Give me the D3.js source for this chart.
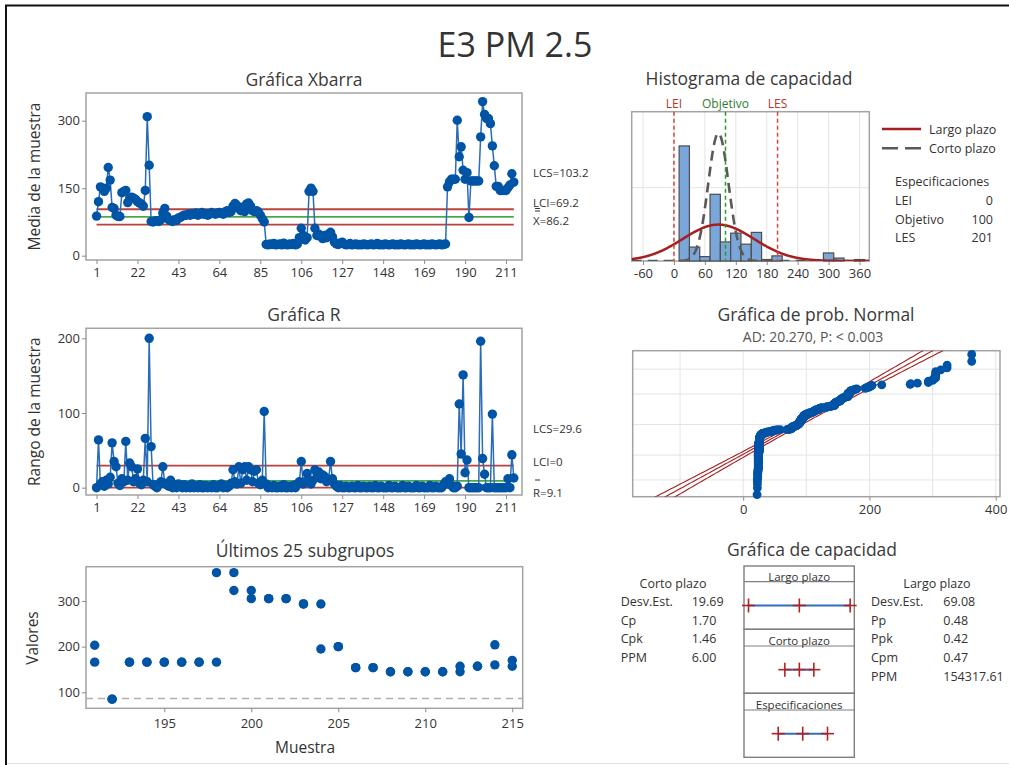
<!DOCTYPE html>
<html>
<head>
<meta charset="utf-8">
<script src="https://cdn.jsdelivr.net/npm/d3@7"></script>
<style>
  body { margin: 0; background: #fff; }
  svg { display: block; font-family: "Open Sans", "Noto Sans", sans-serif; }
</style>
</head>
<body>
<svg id="chart" width="1009" height="765"></svg>
<script>
// subgroup means (n = 2)
const xbar = [
  88,120,153,150,143,150,196,168,107,105,
  90,87,87,140,143,145,118,128,130,128,
  125,120,117,115,110,145,309,201,76,75,
  77,78,76,80,95,105,88,80,78,76,
  80,78,84,85,88,90,90,92,90,94,
  92,95,90,92,96,92,94,90,92,96,
  94,92,95,96,94,92,97,100,96,98,
  110,116,112,105,100,108,98,115,117,110,
  100,98,100,97,90,82,75,25,24,26,
  25,27,24,25,26,24,28,25,24,26,
  25,27,24,26,40,61,45,35,40,143,
  150,143,61,45,48,42,38,45,40,48,
  52,42,30,26,25,28,30,26,24,25,
  27,24,25,26,24,25,24,26,25,24,
  25,26,24,25,27,24,25,24,26,25,
  24,25,26,24,25,24,26,25,24,25,
  26,24,25,24,26,25,24,25,26,24,
  25,24,26,25,24,25,26,24,25,26,
  153,164,170,170,170,301,220,242,190,170,
  184.5,85,166,166,166,166,166,264,342.5,314,
  305,305,293.5,244,200,154,154,145,145,145,
  145,151,157,182,163.5
];
// subgroup ranges
const ranges = [
  0,64,4,8,2,10,5,14,60,35,
  28,6,3,12,8,62,10,33,28,8,
  12,25,6,4,10,66,8,200,55,4,
  2,0,5,8,28,6,4,2,10,0,
  3,0,5,2,0,4,0,2,0,5,
  0,2,0,4,0,0,3,0,2,0,
  4,0,0,2,5,0,3,0,2,6,
  24,8,5,28,6,24,28,10,28,24,
  8,22,24,6,4,10,102,5,0,2,
  0,3,0,0,2,0,4,0,0,2,
  0,3,0,5,8,35,5,8,19,8,
  5,10,24,20,21,12,17,15,8,10,
  35,12,5,2,0,3,0,0,2,0,
  0,2,0,0,3,0,0,2,0,0,
  2,0,0,3,0,0,2,0,0,0,
  3,0,0,2,0,0,0,3,0,0,
  2,0,0,0,3,0,0,2,0,0,
  0,3,0,0,2,0,0,0,4,8,
  5,12,3,0,0,2,112,45,151,20,
  37,0,0,0,0,0,0,196,39,18,
  0,0,0,98.5,0,0,0,0,0,0,
  0,12,0,44,13
];

const xbarLimits = [103.2, 86.2, 69.2];   // LCS, center, LCI
const rangeLimits = [29.6, 9.1, 0];
const grandMean = 86.2;
const sdShort = 19.69;
const sdLong = 69.08;

const xTicks = [1, 22, 43, 64, 85, 106, 127, 148, 169, 190, 211];
const xbarYTicks = [0, 150, 300];
const rangeYTicks = [0, 100, 200];
const lastXTicks = [195, 200, 205, 210, 215];
const lastYTicks = [100, 200, 300];

// histogram (bins of width 20 starting at 10)
const histStarts = [10, 30, 50, 70, 90, 110, 130, 150, 170, 190, 210, 230, 250, 270, 290, 310, 330, 350];
const histCounts = [157, 19, 6, 91, 26, 38, 23, 39, 2, 7, 0, 0, 0, 0, 11, 4, 0, 2];
const histTicks = [-60, 0, 60, 120, 180, 240, 300, 360];

const probTicks = [0, 200, 400];
const probGridX = [-100, 0, 100, 200, 300, 400];
const probGridPct = [1, 10, 50, 90, 99];

const specNames = ['LEI', 'Objetivo', 'LES'];
const specValues = [0, 100, 201];

const shortLabels = ['Desv.Est.', 'Cp', 'Cpk', 'PPM'];
const shortValues = ['19.69', '1.70', '1.46', '6.00'];
const longLabels = ['Desv.Est.', 'Pp', 'Ppk', 'Cpm', 'PPM'];
const longValues = ['69.08', '0.48', '0.42', '0.47', '154317.61'];

const blue = '#0054a6', lineBlue = '#2a6cb8', red = '#b8433f', green = '#4aa84a';
const frameGray = '#a3a3a3', textCol = '#333';

const svg = d3.select('#chart');
const n = xbar.length;
const obs = xbar.flatMap((m, i) => [m - ranges[i] / 2, m + ranges[i] / 2]);

// page border
svg.append('line').attr('x1', 5).attr('x2', 1009).attr('y1', 5.5).attr('y2', 5.5).attr('stroke', '#111').attr('stroke-width', 2);
svg.append('line').attr('x1', 6).attr('x2', 6).attr('y1', 5).attr('y2', 765).attr('stroke', '#111').attr('stroke-width', 2);
svg.append('line').attr('x1', 7).attr('x2', 1009).attr('y1', 763.5).attr('y2', 763.5).attr('stroke', '#e2e2e2');

svg.append('text').attr('x', 515).attr('y', 57).attr('text-anchor', 'middle')
  .attr('font-size', 34).attr('fill', textCol).text('E3 PM 2.5');

function label(x, y, txt, size, opts = {}) {
  const t = svg.append('text').attr('x', x).attr('y', y).attr('font-size', size)
    .attr('fill', opts.fill || textCol).attr('text-anchor', opts.anchor || 'start').text(txt);
  if (opts.rotate) t.attr('transform', `rotate(-90,${x},${y})`);
  return t;
}

function frame(x0, y0, x1, y1) {
  svg.append('rect').attr('x', x0).attr('y', y0).attr('width', x1 - x0).attr('height', y1 - y0)
    .attr('fill', 'none').attr('stroke', frameGray).attr('stroke-width', 1.5);
}

function axis(gen, tx, ty) {
  const g = svg.append('g').attr('transform', `translate(${tx},${ty})`).call(gen.tickFormat(d => String(d)));
  g.attr('font-size', null).attr('font-family', null);
  g.select('.domain').remove();
  g.selectAll('line').attr('stroke', '#8c8c8c');
  g.selectAll('text').attr('fill', textCol).style('font-size', '13px');
  return g;
}

// ---------- control charts ----------
function controlChart(values, limits, top, bottom, yDomain, yTicks, title, yTitle) {
  const x = d3.scaleLinear().domain([-4.4, 219.2]).range([86, 522]);
  const y = d3.scaleLinear().domain(yDomain).range([bottom, top]);
  frame(86, top, 522, bottom);
  axis(d3.axisBottom(x).tickValues(xTicks).tickSize(4).tickPadding(4), 0, bottom);
  axis(d3.axisLeft(y).tickValues(yTicks).tickSize(4).tickPadding(2), 86, 0);

  limits.forEach((v, i) => {
    svg.append('line').attr('x1', x(1)).attr('x2', x(n)).attr('y1', y(v)).attr('y2', y(v))
      .attr('stroke', i === 1 ? green : red).attr('stroke-width', 1.8);
  });

  svg.append('path').datum(values)
    .attr('d', d3.line().x((d, i) => x(i + 1)).y(d => y(d)))
    .attr('fill', 'none').attr('stroke', lineBlue).attr('stroke-width', 1.5);
  svg.append('g').selectAll('circle').data(values).join('circle')
    .attr('cx', (d, i) => x(i + 1)).attr('cy', d => y(d)).attr('r', 4.7).attr('fill', blue);

  label(304, top - 7, title, 17.5, { anchor: 'middle', fill: '#3a3a3a' });
  label(40, (top + bottom) / 2, yTitle, 15.5, { anchor: 'middle', rotate: true });
  return y;
}

controlChart(xbar, xbarLimits, 93, 260, [-9.6, 361.6], xbarYTicks, 'Gráfica Xbarra', 'Media de la muestra');
label(533, 177, `LCS=${xbarLimits[0]}`, 11.5);
label(533, 206.5, `LCI=${xbarLimits[2]}`, 11.5);
svg.append('line').attr('x1', 535).attr('x2', 540).attr('y1', 208.5).attr('y2', 208.5).attr('stroke', textCol);
svg.append('line').attr('x1', 535).attr('x2', 540).attr('y1', 211).attr('y2', 211).attr('stroke', textCol);
label(533, 224.5, `X=${xbarLimits[1]}`, 11.5);

controlChart(ranges, rangeLimits, 328.3, 495, [-9.8, 213.4], rangeYTicks, 'Gráfica R', 'Rango de la muestra');
label(533, 432.5, `LCS=${rangeLimits[0]}`, 11.5);
label(533, 466, `LCI=${rangeLimits[2]}`, 11.5);
svg.append('line').attr('x1', 535).attr('x2', 540).attr('y1', 480).attr('y2', 480).attr('stroke', textCol);
label(533, 497, `R=${rangeLimits[1]}`, 11.5);

// ---------- last 25 subgroups ----------
{
  const x = d3.scaleLinear().domain([190.5, 215.6]).range([86, 522.7]);
  const y = d3.scaleLinear().domain([65, 375]).range([708.3, 566.7]);
  frame(86, 566.7, 522.7, 708.3);
  axis(d3.axisBottom(x).tickValues(lastXTicks).tickSize(4).tickPadding(6), 0, 708.3);
  axis(d3.axisLeft(y).tickValues(lastYTicks).tickSize(4).tickPadding(2), 86, 0);
  svg.append('line').attr('x1', 86).attr('x2', 522.7).attr('y1', y(grandMean)).attr('y2', y(grandMean))
    .attr('stroke', '#b0b0b0').attr('stroke-width', 1.5).attr('stroke-dasharray', '7,5');
  const pts = [];
  for (let s = n - 24; s <= n; s++) {
    pts.push({ s, v: obs[(s - 1) * 2] }, { s, v: obs[(s - 1) * 2 + 1] });
  }
  svg.append('g').selectAll('circle').data(pts).join('circle')
    .attr('cx', d => x(d.s)).attr('cy', d => y(d.v)).attr('r', 4.7).attr('fill', blue);
  label(305, 557, 'Últimos 25 subgrupos', 17.5, { anchor: 'middle', fill: '#3a3a3a' });
  label(38, 638, 'Valores', 15.5, { anchor: 'middle', rotate: true });
  label(305, 753, 'Muestra', 15.5, { anchor: 'middle' });
}

// ---------- capability histogram ----------
{
  const x = d3.scaleLinear().domain([-82, 379]).range([631.7, 869.3]);
  const y = d3.scaleLinear().domain([0, 203.7]).range([261, 111.7]);
  svg.append('clipPath').attr('id', 'histClip').append('rect')
    .attr('x', 631.7).attr('y', 111.7).attr('width', 869.3 - 631.7).attr('height', 261 - 111.7);
  const grid = svg.append('g').attr('stroke', '#e4e4e4');
  histTicks.forEach(t => grid.append('line').attr('x1', x(t)).attr('x2', x(t)).attr('y1', 111.7).attr('y2', 261));
  grid.append('line').attr('x1', 631.7).attr('x2', 869.3).attr('y1', y(100)).attr('y2', y(100));
  frame(631.7, 111.7, 869.3, 261);
  axis(d3.axisBottom(x).tickValues(histTicks).tickSize(4).tickPadding(4), 0, 261);

  svg.append('g').selectAll('rect').data(histStarts.map((s, i) => ({ s, c: histCounts[i] })).filter(d => d.c > 0))
    .join('rect')
    .attr('x', d => x(d.s)).attr('width', d => x(d.s + 20) - x(d.s))
    .attr('y', d => y(d.c)).attr('height', d => y(0) - y(d.c))
    .attr('fill', '#7aa6da').attr('stroke', '#4d4d4d').attr('stroke-width', 1.2);

  const scale = obs.length * 20;
  const pdf = (v, sd) => Math.exp(-0.5 * ((v - grandMean) / sd) ** 2) / (sd * Math.sqrt(2 * Math.PI));
  const xs = d3.range(-82, 380, 1);
  const curve = sd => d3.line().x(v => x(v)).y(v => y(scale * pdf(v, sd)))(xs);
  svg.append('path').attr('d', curve(sdShort)).attr('clip-path', 'url(#histClip)')
    .attr('fill', 'none').attr('stroke', '#595959').attr('stroke-width', 2.6).attr('stroke-dasharray', '10,6');
  svg.append('path').attr('d', curve(sdLong)).attr('clip-path', 'url(#histClip)')
    .attr('fill', 'none').attr('stroke', '#a61e1e').attr('stroke-width', 2.5);

  const specCols = ['#e0403a', '#2a9a2a', '#e0403a'];
  const specText = ['#b03a2e', '#2e7d32', '#b03a2e'];
  specValues.forEach((v, i) => {
    svg.append('line').attr('x1', x(v)).attr('x2', x(v)).attr('y1', 111.7).attr('y2', 261)
      .attr('stroke', specCols[i]).attr('stroke-width', 1.5).attr('stroke-dasharray', '4,3');
    label(x(v), 107.5, specNames[i], 12, { anchor: 'middle', fill: specText[i] });
  });

  label(749, 85, 'Histograma de capacidad', 17.5, { anchor: 'middle', fill: '#3a3a3a' });

  svg.append('line').attr('x1', 882).attr('x2', 921).attr('y1', 129).attr('y2', 129).attr('stroke', '#a61e1e').attr('stroke-width', 2.5);
  label(929, 133.5, 'Largo plazo', 12.5);
  svg.append('line').attr('x1', 882).attr('x2', 921).attr('y1', 148.3).attr('y2', 148.3).attr('stroke', '#595959')
    .attr('stroke-width', 2.5).attr('stroke-dasharray', '16,7');
  label(929, 152.8, 'Corto plazo', 12.5);
  label(895, 186, 'Especificaciones', 12.5);
  specNames.forEach((s, i) => {
    label(895, 205 + i * 18.5, s, 12.5);
    label(993, 205 + i * 18.5, specValues[i], 12.5, { anchor: 'end' });
  });
}

// ---------- normal probability plot ----------
function qnorm(p) {
  const a = [-39.69683028665376, 220.9460984245205, -275.9285104469687, 138.3577518672690, -30.66479806614716, 2.506628277459239];
  const b = [-54.47609879822406, 161.5858368580409, -155.6989798598866, 66.80131188771972, -13.28068155288572];
  const c = [-0.007784894002430293, -0.3223964580411365, -2.400758277161838, -2.549732539343734, 4.374664141464968, 2.938163982698783];
  const d = [0.007784695709041462, 0.3224671290700398, 2.445134137142996, 3.754408661907416];
  const lo = 0.02425;
  let q, r;
  if (p < lo) {
    q = Math.sqrt(-2 * Math.log(p));
    return (((((c[0] * q + c[1]) * q + c[2]) * q + c[3]) * q + c[4]) * q + c[5]) / ((((d[0] * q + d[1]) * q + d[2]) * q + d[3]) * q + 1);
  }
  if (p > 1 - lo) {
    q = Math.sqrt(-2 * Math.log(1 - p));
    return -(((((c[0] * q + c[1]) * q + c[2]) * q + c[3]) * q + c[4]) * q + c[5]) / ((((d[0] * q + d[1]) * q + d[2]) * q + d[3]) * q + 1);
  }
  q = p - 0.5; r = q * q;
  return (((((a[0] * r + a[1]) * r + a[2]) * r + a[3]) * r + a[4]) * r + a[5]) * q / (((((b[0] * r + b[1]) * r + b[2]) * r + b[3]) * r + b[4]) * r + 1);
}

{
  const x = d3.scaleLinear().domain([-175, 406.8]).range([632.7, 1000]);
  const y = d3.scaleLinear().domain([-3.03, 3.1]).range([496.7, 350.7]);
  svg.append('clipPath').attr('id', 'probClip').append('rect')
    .attr('x', 632.7).attr('y', 350.7).attr('width', 1000 - 632.7).attr('height', 496.7 - 350.7);
  const grid = svg.append('g').attr('stroke', '#e4e4e4');
  probGridX.forEach(t => grid.append('line').attr('x1', x(t)).attr('x2', x(t)).attr('y1', 350.7).attr('y2', 496.7));
  probGridPct.forEach(p => grid.append('line').attr('x1', 632.7).attr('x2', 1000).attr('y1', y(qnorm(p / 100))).attr('y2', y(qnorm(p / 100))));
  frame(632.7, 350.7, 1000, 496.7);
  axis(d3.axisBottom(x).tickValues(probTicks).tickSize(4).tickPadding(4), 0, 496.7);

  const N = obs.length;
  const zs = d3.range(-3.3, 3.35, 0.05);
  const band = k => d3.line()
    .x(z => x(grandMean + sdLong * z + k * 1.96 * sdLong * Math.sqrt(1 / N + z * z / (2 * (N - 1)))))
    .y(z => y(z))(zs);
  [-1, 0, 1].forEach(k => svg.append('path').attr('d', band(k)).attr('clip-path', 'url(#probClip)')
    .attr('fill', 'none').attr('stroke', '#a61e1e').attr('stroke-width', 1.1));

  const sorted = obs.slice().sort(d3.ascending);
  svg.append('g').selectAll('circle').data(sorted).join('circle')
    .attr('cx', d => x(d)).attr('cy', (d, i) => y(qnorm((i + 1 - 0.3) / (N + 0.4))))
    .attr('r', 4.4).attr('fill', blue);

  label(816, 321, 'Gráfica de prob. Normal', 17.5, { anchor: 'middle', fill: '#3a3a3a' });
  label(813, 341.5, 'AD: 20.270, P: < 0.003', 14, { anchor: 'middle', fill: '#555' });
}

// ---------- capability plot ----------
{
  const x = d3.scaleLinear().domain([0, 201]).range([778.2, 827.5]);
  const bx0 = 744, bx1 = 854.3, cx = (bx0 + bx1) / 2;
  const rows = [
    { name: 'Largo plazo', top: 566, div: 581.7, bot: 629.3, vals: [grandMean - 3 * sdLong, grandMean, grandMean + 3 * sdLong] },
    { name: 'Corto plazo', top: 629.3, div: 646, bot: 693.3, vals: [grandMean - 3 * sdShort, grandMean, grandMean + 3 * sdShort] },
    { name: 'Especificaciones', top: 693.3, div: 710, bot: 757.3, vals: specValues }
  ];
  rows.forEach(r => {
    svg.append('rect').attr('x', bx0).attr('y', r.top).attr('width', bx1 - bx0).attr('height', r.bot - r.top)
      .attr('fill', 'none').attr('stroke', '#7f7f7f').attr('stroke-width', 1.4);
    svg.append('line').attr('x1', bx0).attr('x2', bx1).attr('y1', r.div).attr('y2', r.div).attr('stroke', '#7f7f7f').attr('stroke-width', 1.2);
    label(cx, r.div - 1.2, r.name, 11.5, { anchor: 'middle' });
    const yc = (r.div + r.bot) / 2;
    svg.append('line').attr('x1', x(r.vals[0])).attr('x2', x(r.vals[2])).attr('y1', yc).attr('y2', yc)
      .attr('stroke', '#2f6fbf').attr('stroke-width', 2);
    r.vals.forEach(v => {
      svg.append('line').attr('x1', x(v) - 6.5).attr('x2', x(v) + 6.5).attr('y1', yc).attr('y2', yc).attr('stroke', '#b22222').attr('stroke-width', 1.6);
      svg.append('line').attr('x1', x(v)).attr('x2', x(v)).attr('y1', yc - 7).attr('y2', yc + 7).attr('stroke', '#b22222').attr('stroke-width', 1.6);
    });
  });

  label(812, 556, 'Gráfica de capacidad', 17.5, { anchor: 'middle', fill: '#3a3a3a' });

  label(673, 587.5, 'Corto plazo', 12.5, { anchor: 'middle' });
  shortLabels.forEach((s, i) => {
    label(620.7, 606 + i * 18.5, s, 12.5);
    label(691.7, 606 + i * 18.5, shortValues[i], 12.5);
  });
  label(937, 587.5, 'Largo plazo', 12.5, { anchor: 'middle' });
  longLabels.forEach((s, i) => {
    label(871, 606 + i * 18.7, s, 12.5);
    label(943.3, 606 + i * 18.7, longValues[i], 12.5);
  });
}
</script>
</body>
</html>
